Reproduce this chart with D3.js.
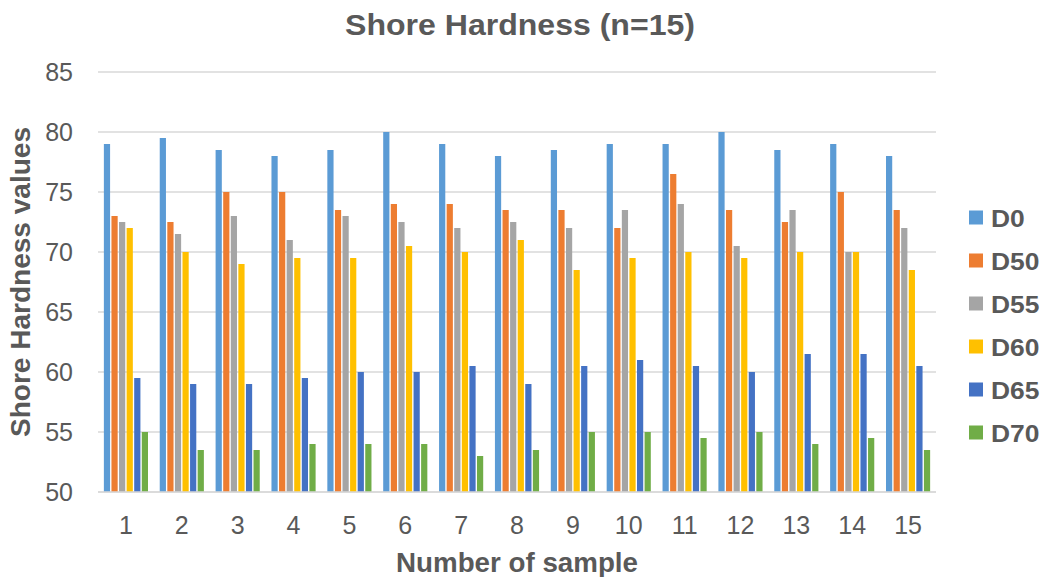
<!DOCTYPE html>
<html>
<head>
<meta charset="utf-8">
<script src="https://cdn.jsdelivr.net/npm/d3@7"></script>
<style>
  html, body { margin: 0; padding: 0; background: #fff; }
  svg { display: block; font-family: "Liberation Sans", Arial, sans-serif; }
</style>
</head>
<body>
<svg id="chart" width="1044" height="577"></svg>
<script>
// Sample numbers on the x axis
const samples = ["1","2","3","4","5","6","7","8","9","10","11","12","13","14","15"];
// Series names and colours
const seriesNames = ["D0","D50","D55","D60","D65","D70"];
const seriesColors = ["#5B9BD5","#ED7D31","#A5A5A5","#FFC000","#4472C4","#70AD47"];
// Shore hardness readings per series
const D0  = [79, 79.5, 78.5, 78, 78.5, 80, 79, 78, 78.5, 79, 79, 80, 78.5, 79, 78];
const D50 = [73, 72.5, 75, 75, 73.5, 74, 74, 73.5, 73.5, 72, 76.5, 73.5, 72.5, 75, 73.5];
const D55 = [72.5, 71.5, 73, 71, 73, 72.5, 72, 72.5, 72, 73.5, 74, 70.5, 73.5, 70, 72];
const D60 = [72, 70, 69, 69.5, 69.5, 70.5, 70, 71, 68.5, 69.5, 70, 69.5, 70, 70, 68.5];
const D65 = [59.5, 59, 59, 59.5, 60, 60, 60.5, 59, 60.5, 61, 60.5, 60, 61.5, 61.5, 60.5];
const D70 = [55, 53.5, 53.5, 54, 54, 54, 53, 53.5, 55, 55, 54.5, 55, 54, 54.5, 53.5];
const seriesValues = [D0, D50, D55, D60, D65, D70];
// Value axis ticks
const yTicks = [50, 55, 60, 65, 70, 75, 80, 85];

const svg = d3.select("#chart");
const textColor = "#595959";
const plotLeft = 98, plotRight = 936, plotTop = 72, plotBottom = 492;

const x = d3.scaleBand().domain(samples).range([plotLeft, plotRight]).paddingInner(0.21).paddingOuter(0.105);
const xs = d3.scaleBand().domain(seriesNames).range([0, x.bandwidth()]).paddingInner(0.18).paddingOuter(0);
const y = d3.scaleLinear().domain([50, 85]).range([plotBottom, plotTop]);

// Horizontal gridlines
svg.append("g")
  .selectAll("line").data(yTicks).join("line")
  .attr("x1", plotLeft).attr("x2", plotRight)
  .attr("y1", d => y(d)).attr("y2", d => y(d))
  .attr("stroke", "#d9d9d9").attr("stroke-width", 1.3);

// Value axis labels
const yAxis = d3.axisLeft(y).tickValues(yTicks).tickSize(0).tickPadding(0);
const gy = svg.append("g").attr("transform", `translate(${plotLeft - 25},0)`).call(yAxis);
gy.select(".domain").remove();
gy.selectAll("text").attr("fill", textColor).attr("font-size", 25).attr("font-family", "Liberation Sans, Arial, sans-serif");

// Category axis labels
const xAxis = d3.axisBottom(x).tickSize(0).tickPadding(0);
const gx = svg.append("g").attr("transform", `translate(0,${plotBottom + 24})`).call(xAxis);
gx.select(".domain").remove();
gx.selectAll("text").attr("fill", textColor).attr("font-size", 25).attr("font-family", "Liberation Sans, Arial, sans-serif");

// Bars
const groups = svg.append("g").selectAll("g").data(samples).join("g")
  .attr("transform", d => `translate(${x(d)},0)`);
groups.selectAll("rect")
  .data((d, i) => seriesNames.map((s, k) => ({ s, k, v: seriesValues[k][i] })))
  .join("rect")
  .attr("x", d => xs(d.s))
  .attr("width", xs.bandwidth())
  .attr("y", d => y(d.v))
  .attr("height", d => y(50) - y(d.v))
  .attr("fill", d => seriesColors[d.k]);

// Baseline
svg.append("line").attr("x1", plotLeft).attr("x2", plotRight).attr("y1", plotBottom).attr("y2", plotBottom)
  .attr("stroke", "#d9d9d9").attr("stroke-width", 1.3);

// Titles
svg.append("text").attr("x", 520).attr("y", 35).attr("text-anchor", "middle")
  .attr("font-size", 29).attr("font-weight", "bold").attr("fill", textColor)
  .attr("textLength", 350).attr("lengthAdjust", "spacingAndGlyphs")
  .text("Shore Hardness (n=15)");
svg.append("text").attr("transform", "translate(30,282) rotate(-90)").attr("text-anchor", "middle")
  .attr("font-size", 27).attr("font-weight", "bold").attr("fill", textColor)
  .attr("textLength", 310).attr("lengthAdjust", "spacingAndGlyphs")
  .text("Shore Hardness values");
svg.append("text").attr("x", 517).attr("y", 572).attr("text-anchor", "middle")
  .attr("font-size", 27).attr("font-weight", "bold").attr("fill", textColor)
  .attr("textLength", 242).attr("lengthAdjust", "spacingAndGlyphs")
  .text("Number of sample");

// Legend
const legend = svg.append("g").selectAll("g").data(seriesNames).join("g")
  .attr("transform", (d, i) => `translate(969,${217.5 + i * 43})`);
legend.append("rect").attr("x", 0).attr("y", -7).attr("width", 14).attr("height", 14)
  .attr("fill", (d, i) => seriesColors[i]);
legend.append("text").attr("transform", "translate(22,9) scale(1.1,1)")
  .attr("font-size", 24).attr("font-weight", "bold")
  .attr("fill", textColor).text(d => d);
</script>
</body>
</html>
